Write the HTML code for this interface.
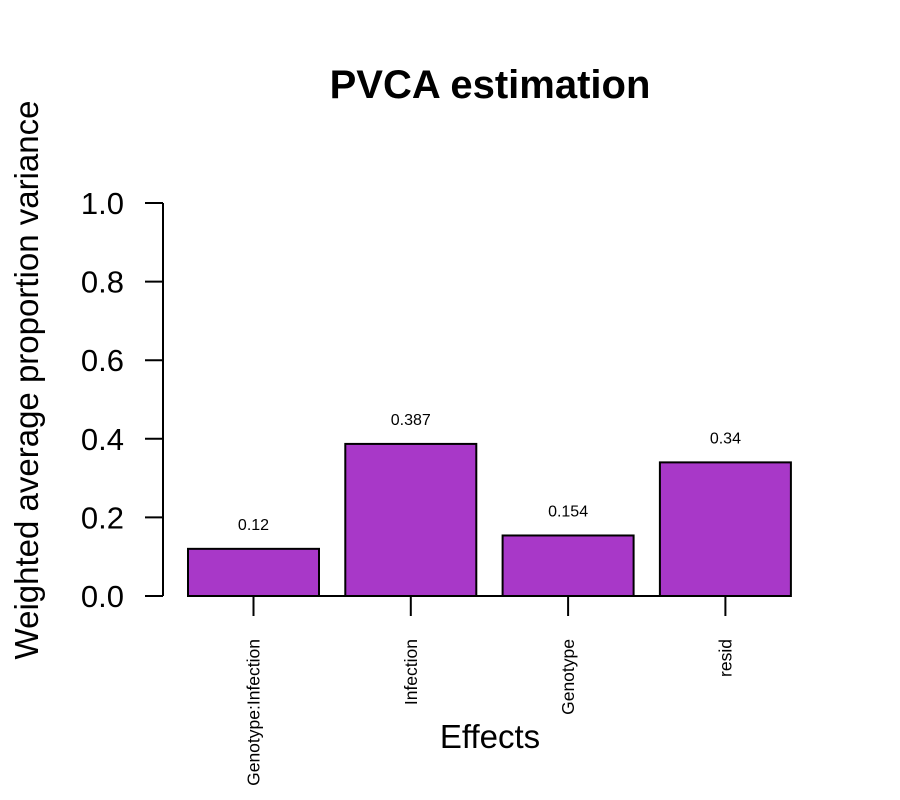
<!DOCTYPE html>
<html><head><meta charset="utf-8"><style>body{margin:0;background:#fff}svg{display:block}text{font-family:"Liberation Sans",Arial,sans-serif}</style></head>
<body>
<svg id="c" width="900" height="800">
<text x="490" y="98" text-anchor="middle" font-size="40" font-weight="bold">PVCA estimation</text>
<text transform="translate(38,380) rotate(-90)" text-anchor="middle" font-size="33">Weighted average proportion variance</text>
<text x="490" y="748" text-anchor="middle" font-size="33">Effects</text>
<g id="g"></g>
</svg>
<script>
const categories=["Genotype:Infection","Infection","Genotype","resid"];
const values=[0.12,0.387,0.154,0.34];
const valueLabels=["0.12","0.387","0.154","0.34"];
const yTicks=[0,0.2,0.4,0.6,0.8,1.0];
const yTickLabels=["0.0","0.2","0.4","0.6","0.8","1.0"];
const NS="http://www.w3.org/2000/svg",g=document.getElementById('g');
const y=v=>596-v*393;
const bx=i=>188+i*157.3, bw=131;
function mk(t,a,txt){const e=document.createElementNS(NS,t);for(const k in a)e.setAttribute(k,a[k]);if(txt!=null)e.textContent=txt;g.appendChild(e);return e;}
let ax=mk('line',{x1:163,x2:163,y1:y(0),y2:y(1),stroke:'#000','stroke-width':2});


yTicks.forEach((t,i)=>{
 let l=mk('line',{x1:145,x2:163,y1:y(t),y2:y(t),stroke:'#000','stroke-width':2});
 
 
 let tx=mk('text',{x:124,y:y(t)+11,'text-anchor':'end','font-size':31},yTickLabels[i]);
 
 
});
let base=mk('line',{x1:bx(0),x2:bx(categories.length-1)+bw,y1:y(0),y2:y(0),stroke:'#000','stroke-width':2});


categories.forEach((c,i)=>{
 let r=mk('rect',{x:bx(i),y:y(values[i]),width:bw,height:y(0)-y(values[i]),fill:'#A838C8',stroke:'#000','stroke-width':2});
 
 
 const cx=bx(i)+bw/2;
 let v=mk('text',{x:cx,y:y(values[i])-19,'text-anchor':'middle','font-size':16},valueLabels[i]);
 
 
 let t=mk('line',{x1:cx,x2:cx,y1:597,y2:616,stroke:'#000','stroke-width':2});
 
 
 let l=mk('text',{transform:`translate(${cx+6},639) rotate(-90)`,'text-anchor':'end','font-size':17.5},c);
 
 
});
</script>
</body></html>
